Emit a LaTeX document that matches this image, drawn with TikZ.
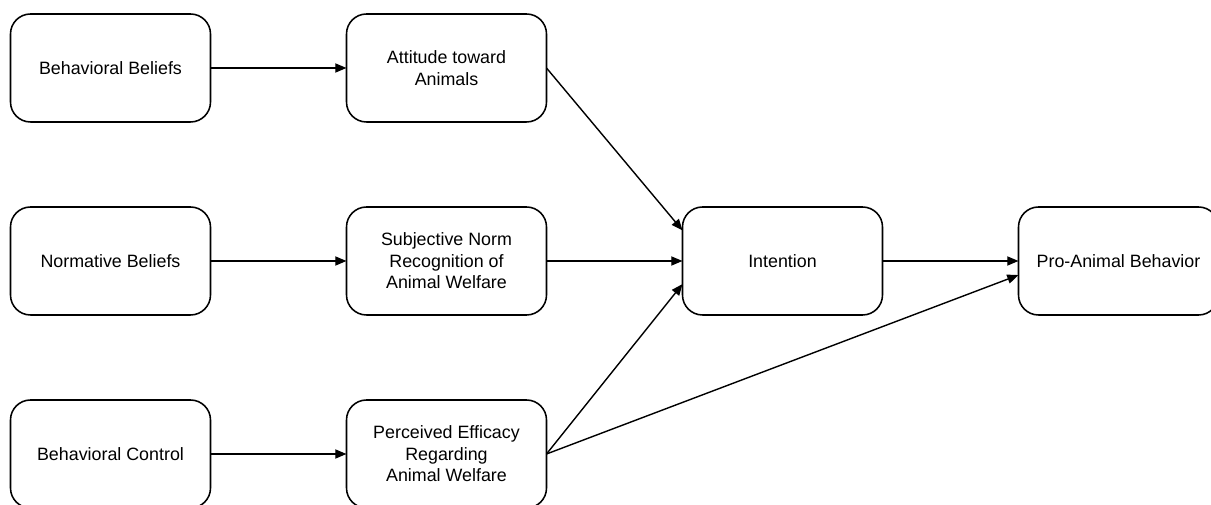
\documentclass[tikz,border=0pt]{standalone}
\usepackage{fontspec}
\setmainfont{Liberation Sans}
\usetikzlibrary{arrows.meta,positioning}

\tikzset{
  box/.style={draw, line width=1.1pt, outer sep=0pt, rounded corners=0.5cm, minimum width=5.0cm,
    minimum height=2.7cm, align=center, font=\fontsize{12.7}{15.3}\selectfont},
  link/.style={-{Triangle[length=8pt,width=6.5pt]}, line width=1pt}
}

\begin{document}
\begin{tikzpicture}[node distance=3.4cm]

\useasboundingbox (0,0) rectangle (30.275,-12.625);
\clip (0,0) rectangle (30.275,-12.625);

\node(bb)[box] at (2.7625,-1.7){Behavioral Beliefs};

\node(att)[box, right = 3.4cm of bb]{Attitude toward\\Animals};

\node(nb)[box, below = 2.125cm of bb]{Normative Beliefs};

\node(norm)[box, right = 3.4cm of nb]{Subjective Norm\\Recognition of\\Animal Welfare};

\node(int)[box, right = 3.4cm of norm]{Intention};

\node(pro)[box, right = 3.4cm of int]{Pro-Animal Behavior};

\node(bc)[box, below = 2.125cm of nb]{Behavioral Control};

\node(eff)[box, right = 3.4cm of bc]{Perceived Efficacy\\Regarding\\Animal Welfare};

\draw[link] (bb) -- (att);

\draw[link] (nb) -- (norm);

\draw[link] (bc) -- (eff);

\draw[link] (att.east) -- (int.163);

\draw[link] (norm) -- (int);

\draw[link] (eff.east) -- (int.193);

\draw[link] (int) -- (pro);

\draw[link] (eff.east) -- (pro.188);

\end{tikzpicture}
\end{document}
